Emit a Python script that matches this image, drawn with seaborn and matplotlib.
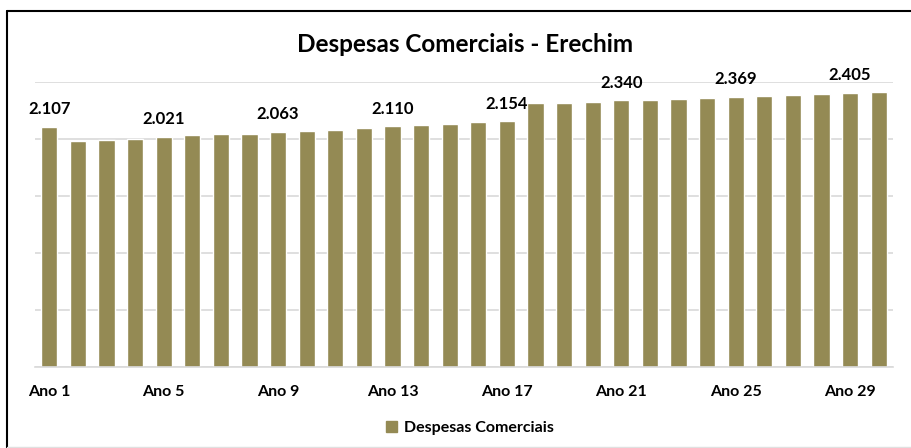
import pandas as pd
import seaborn as sns
import matplotlib.pyplot as plt
from matplotlib.lines import Line2D
from matplotlib.patches import Patch

# valores (mil R$)
anos = [f'Ano {i}' for i in range(1, 31)]
despesas = [2107, 1981, 1990, 1999, 2021, 2031, 2040, 2048, 2063, 2072,
            2081, 2098, 2110, 2122, 2131, 2145, 2154, 2318, 2318, 2327,
            2340, 2345, 2352, 2359, 2369, 2377, 2386, 2391, 2405, 2412]
rotulos = [0, 4, 8, 12, 16, 20, 24, 28]  # barras com rotulo de valor

df = pd.DataFrame({'Ano': anos, 'Despesas Comerciais': despesas})

sns.set_style('white')
plt.rcParams['font.family'] = ['Lato', 'DejaVu Sans']
plt.rcParams['text.color'] = 'black'
plt.rcParams['xtick.color'] = 'black'
cor = '#948A54'

fig = plt.figure(figsize=(9.11, 4.48), dpi=100)
ax = fig.add_axes([35/911, 1-367/448, 858/911, 285/448])
sns.barplot(data=df, x='Ano', y='Despesas Comerciais', color=cor, width=0.56,
            saturation=1, ax=ax, zorder=2)

ax.set_ylim(0, 2500)
ax.set_xlim(-0.5, 29.5)
ax.set_yticks(range(0, 2501, 500))
ax.set_yticklabels([])
ax.yaxis.grid(True, color='#d9d9d9', linewidth=1.2, zorder=0)
ax.set_xticks(range(0, 30, 4))
ax.set_xticklabels([anos[i] for i in range(0, 30, 4)], fontsize=11.5, fontweight='bold')
ax.tick_params(axis='both', length=0, pad=13)
for s in ['top', 'right', 'left']:
    ax.spines[s].set_visible(False)
ax.spines['bottom'].set_color('#d9d9d9')
ax.spines['bottom'].set_linewidth(1.2)
ax.set_xlabel('')
ax.set_ylabel('')

for i in rotulos:
    v = despesas[i]
    txt = f'{v/1000:.3f}'
    ax.annotate(txt, (i, v), xytext=(0, 7), textcoords='offset points',
                ha='center', va='bottom', fontsize=12, fontweight='bold')

fig.text(465/911, 1-44/448, 'Despesas Comerciais - Erechim', ha='center', va='center',
         fontsize=17.5, fontweight='bold')

leg = fig.legend(handles=[Patch(color=cor, label='Despesas Comerciais')],
                 loc='center', bbox_to_anchor=(470/911, 1-428/448), frameon=False,
                 handlelength=0.7, handleheight=0.7, handletextpad=0.4,
                 prop={'size': 11.5, 'weight': 'bold'})

# borda do grafico
fig.add_artist(Line2D([7/911, 7/911], [0, 1-11/448], color='black', linewidth=1.5))
fig.add_artist(Line2D([7/911, 1], [1-11/448, 1-11/448], color='black', linewidth=1.5))
fig.add_artist(Line2D([7/911, 1], [1/448, 1/448], color='#e0e0e0', linewidth=1))

plt.savefig('out.png', dpi=100)
